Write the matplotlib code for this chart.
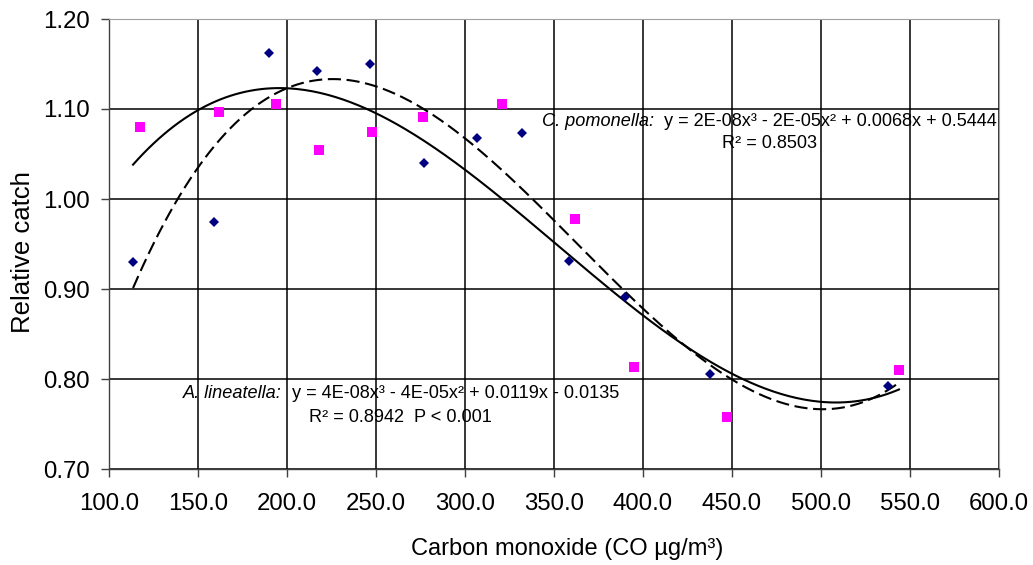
import numpy as np
import matplotlib
matplotlib.use("Agg")
import matplotlib.pyplot as plt

plt.rcParams['font.family'] = ['Liberation Sans', 'DejaVu Sans']

# A. lineatella relative catch vs CO concentration
lin_co = [113.5, 159.0, 190.0, 217.0, 246.6, 277.0, 307.0, 332.0, 358.4, 390.0, 437.6, 537.6]
lin_catch = [0.930, 0.974, 1.162, 1.142, 1.150, 1.040, 1.068, 1.073, 0.931, 0.891, 0.806, 0.792]

# C. pomonella relative catch vs CO concentration
pom_co = [117.6, 161.8, 193.7, 218.0, 247.6, 276.4, 320.8, 362.0, 395.0, 447.0, 543.8]
pom_catch = [1.080, 1.097, 1.106, 1.055, 1.075, 1.091, 1.106, 0.978, 0.813, 0.758, 0.810]

x_ticks = [100, 150, 200, 250, 300, 350, 400, 450, 500, 550, 600]
y_ticks = [0.70, 0.80, 0.90, 1.00, 1.10, 1.20]

pom_eq = "  y = 2E-08x\u00b3 - 2E-05x\u00b2 + 0.0068x + 0.5444"
pom_r2 = "R\u00b2 = 0.8503"
lin_eq = "  y = 4E-08x\u00b3 - 4E-05x\u00b2 + 0.0119x - 0.0135"
lin_r2 = "R\u00b2 = 0.8942  P < 0.001"

fig = plt.figure(figsize=(10.33, 5.65), dpi=100)
ax = fig.add_axes([109 / 1033, 1 - 469 / 565, 890 / 1033, 450 / 565])

ax.set_xlim(100, 600)
ax.set_ylim(0.70, 1.20)
ax.set_xticks(x_ticks)
ax.set_yticks(y_ticks)
ax.set_xticklabels([f"{v:.1f}" for v in x_ticks])
ax.set_yticklabels([f"{v:.2f}" for v in y_ticks])
ax.grid(True, color='black', linewidth=1.1)
ax.set_axisbelow(True)
for side in ('top', 'right'):
    ax.spines[side].set_color('#a0a0a0')
    ax.spines[side].set_linewidth(0.8)
for side in ('left', 'bottom'):
    ax.spines[side].set_color('#404040')
    ax.spines[side].set_linewidth(1.0)
ax.tick_params(axis='both', direction='out', length=5.5, width=1.0,
               color='#404040', labelsize=17.3)
ax.tick_params(axis='y', pad=8)
ax.tick_params(axis='x', pad=12)

# Cubic trendlines fitted to each series
all_co = lin_co + pom_co
xs = np.linspace(min(all_co), max(all_co), 300)
lin_fit = np.polyfit(lin_co, lin_catch, 3)
pom_fit = np.polyfit(pom_co, pom_catch, 3)
ax.plot(xs, np.polyval(pom_fit, xs), color='black', linewidth=1.5, zorder=3)
ax.plot(xs, np.polyval(lin_fit, xs), color='black', linewidth=1.5,
        dashes=(6.3, 2.7), zorder=3)

ax.plot(lin_co, lin_catch, linestyle='none', marker='D', markersize=4.9,
        color='#000080', markeredgewidth=0, zorder=4)
ax.plot(pom_co, pom_catch, linestyle='none', marker='s', markersize=7.0,
        color='#ff00ff', markeredgewidth=0, zorder=4)

# Trendline equations
fs = 13.1
t1 = ax.text(343.3, 1.0856, "C. pomonella:", fontsize=fs, style='italic',
             va='center', ha='left')
ax.annotate(pom_eq, xy=(1, 0.5), xycoords=t1, va='center', ha='left',
            fontsize=fs)
ax.text(470.8, 1.062, pom_r2, fontsize=fs, va='center', ha='center')

t2 = ax.text(141.6, 0.7844, "A. lineatella:", fontsize=fs, style='italic',
             va='center', ha='left')
ax.annotate(lin_eq, xy=(1, 0.5), xycoords=t2, va='center', ha='left',
            fontsize=fs)
ax.text(263.5, 0.7567, lin_r2, fontsize=fs, va='center', ha='center')

ax.set_xlabel("Carbon monoxide (CO \u00b5g/m\u00b3)", fontsize=17)
ax.xaxis.set_label_coords(0.515, -0.178)
ax.xaxis.label.set_va('center')
ax.set_ylabel("Relative catch", fontsize=18.5)
ax.yaxis.set_label_coords(-0.0966, 0.482)
ax.yaxis.label.set_va('center')

fig.savefig("out.png", dpi=100, facecolor='white')
